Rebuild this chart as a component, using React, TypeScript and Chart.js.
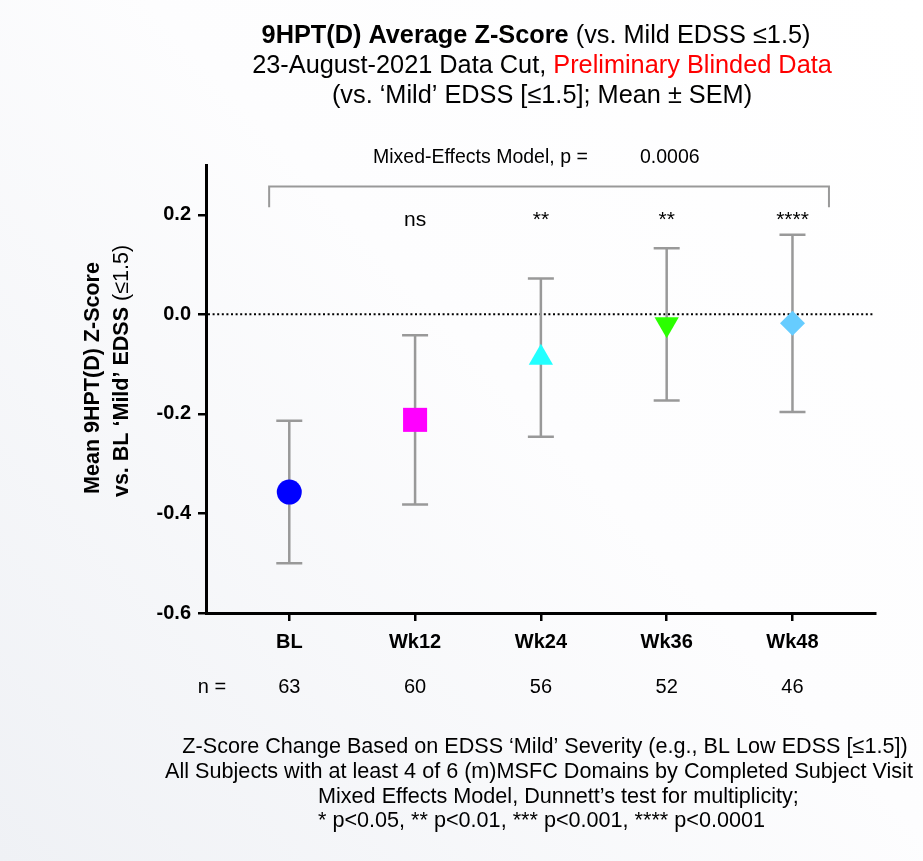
import React, { useEffect, useRef } from "react";
import { Chart, registerables } from "chart.js";

Chart.register(...registerables);

// ---------- data ----------
const categories = ["BL", "Wk12", "Wk24", "Wk36", "Wk48"];
const meanZ = [-0.357, -0.212, -0.087, -0.02, -0.018];
const semZ = [0.143, 0.17, 0.159, 0.153, 0.178];
const nSubjects = [63, 60, 56, 52, 46];
const significance = ["", "ns", "**", "**", "****"];
const yTickValues = [0.2, 0.0, -0.2, -0.4, -0.6];
const yTickLabels = ["0.2", "0.0", "-0.2", "-0.4", "-0.6"];
const overallP = "0.0006";

// ---------- styles ----------
const markerColors = ["#0000ff", "#ff00ff", "#22ffff", "#2bff00", "#66ccff"];
const markerStyles = ["circle", "rect", "triangle", "triangle", "rectRot"];
const markerRotations = [0, 0, 0, 180, 0];
const markerRadii = [12.5, 17, 14, 14, 12.5];

const FONT = "'Liberation Sans', Arial, Helvetica, sans-serif";

type Seg = { text: string; bold?: boolean; color?: string };

function fontOf(bold: boolean | undefined, size: number) {
  return `${bold ? "bold " : ""}${size}px ${FONT}`;
}

function measureSegs(ctx: CanvasRenderingContext2D, segs: Seg[], size: number) {
  let w = 0;
  for (const s of segs) {
    ctx.font = fontOf(s.bold, size);
    w += ctx.measureText(s.text).width;
  }
  return w;
}

function fitSize(ctx: CanvasRenderingContext2D, segs: Seg[], target: number) {
  const base = 20;
  return (base * target) / measureSegs(ctx, segs, base);
}

function drawSegs(
  ctx: CanvasRenderingContext2D,
  segs: Seg[],
  x: number,
  y: number,
  size: number,
  align: "center" | "left"
) {
  const total = measureSegs(ctx, segs, size);
  let cx = align === "center" ? x - total / 2 : x;
  ctx.textAlign = "left";
  ctx.textBaseline = "middle";
  for (const s of segs) {
    ctx.font = fontOf(s.bold, size);
    ctx.fillStyle = s.color || "#000";
    ctx.fillText(s.text, cx, y);
    cx += ctx.measureText(s.text).width;
  }
}

const overlayPlugin = {
  id: "overlay",
  beforeDraw(chart: any) {
    const { ctx, width, height } = chart;
    ctx.save();
    ctx.globalCompositeOperation = "destination-over";
    const g = ctx.createLinearGradient(width, 0, 0, height);
    g.addColorStop(0, "#ffffff");
    g.addColorStop(0.45, "#fdfdfe");
    g.addColorStop(1, "#eff1f5");
    ctx.fillStyle = g;
    ctx.fillRect(0, 0, width, height);
    ctx.restore();
  },
  beforeDatasetsDraw(chart: any) {
    const { ctx, chartArea } = chart;
    const xs = chart.scales.x;
    const ys = chart.scales.y;
    ctx.save();
    // zero reference line (dotted)
    const y0 = ys.getPixelForValue(0);
    ctx.strokeStyle = "#000";
    ctx.lineWidth = 2;
    ctx.setLineDash([2, 2.6]);
    ctx.beginPath();
    ctx.moveTo(chartArea.left + 2, y0);
    ctx.lineTo(chartArea.right, y0);
    ctx.stroke();
    ctx.setLineDash([]);
    // error bars (mean ± SEM)
    ctx.strokeStyle = "#999999";
    ctx.lineWidth = 2.5;
    for (let i = 0; i < categories.length; i++) {
      const x = xs.getPixelForValue(i);
      const yt = ys.getPixelForValue(meanZ[i] + semZ[i]);
      const yb = ys.getPixelForValue(meanZ[i] - semZ[i]);
      ctx.beginPath();
      ctx.moveTo(x, yt);
      ctx.lineTo(x, yb);
      ctx.moveTo(x - 13, yt);
      ctx.lineTo(x + 13, yt);
      ctx.moveTo(x - 13, yb);
      ctx.lineTo(x + 13, yb);
      ctx.stroke();
    }
    ctx.restore();
  },
  afterDraw(chart: any) {
    const { ctx } = chart;
    const xs = chart.scales.x;
    const ys = chart.scales.y;
    ctx.save();

    // Title
    const t1: Seg[] = [
      { text: "9HPT(D) Average Z-Score", bold: true },
      { text: " (vs. Mild EDSS \u22641.5)" },
    ];
    const t2: Seg[] = [
      { text: "23-August-2021 Data Cut, " },
      { text: "Preliminary Blinded Data", color: "#ff0000" },
    ];
    const t3: Seg[] = [{ text: "(vs. \u2018Mild\u2019 EDSS [\u22641.5]; Mean \u00b1 SEM)" }];
    const tSize = fitSize(ctx, t2, 580);
    drawSegs(ctx, t1, 536, 36, tSize, "center");
    drawSegs(ctx, t2, 542, 66, tSize, "center");
    drawSegs(ctx, t3, 542, 96, tSize, "center");

    // Y axis title (two lines, rotated)
    const a1: Seg[] = [{ text: "Mean 9HPT(D) Z-Score", bold: true }];
    const a2: Seg[] = [
      { text: "vs. BL \u2018Mild\u2019 EDSS ", bold: true },
      { text: "(\u22641.5)", bold: false },
    ];
    const aSize = fitSize(ctx, a1, 232);
    ctx.save();
    ctx.translate(93, 378);
    ctx.rotate(-Math.PI / 2);
    drawSegs(ctx, a1, 0, 0, aSize, "center");
    ctx.restore();
    ctx.save();
    ctx.translate(122, 371);
    ctx.rotate(-Math.PI / 2);
    drawSegs(ctx, a2, 0, 0, aSize, "center");
    ctx.restore();

    // Overall model bracket and p value
    const bx1 = xs.getPixelForValue(-0.16);
    const bx2 = xs.getPixelForValue(4.29);
    const by = ys.getPixelForValue(0.257);
    const byLeg = ys.getPixelForValue(0.215);
    ctx.strokeStyle = "#999999";
    ctx.lineWidth = 2;
    ctx.beginPath();
    ctx.moveTo(bx1, byLeg);
    ctx.lineTo(bx1, by);
    ctx.lineTo(bx2, by);
    ctx.lineTo(bx2, byLeg);
    ctx.stroke();

    const pY = ys.getPixelForValue(0.3145);
    drawSegs(ctx, [{ text: "Mixed-Effects Model, p =" }], 373, pY, 19.5, "left");
    drawSegs(ctx, [{ text: overallP }], 640, pY, 19.5, "left");

    // significance labels
    ctx.font = fontOf(false, 21);
    ctx.fillStyle = "#000";
    ctx.textAlign = "center";
    ctx.textBaseline = "alphabetic";
    const sY = ys.getPixelForValue(0.1765);
    for (let i = 0; i < categories.length; i++) {
      if (!significance[i]) continue;
      ctx.fillText(significance[i], xs.getPixelForValue(i), sY);
    }

    // n row
    const nY = 687;
    ctx.textBaseline = "middle";
    ctx.font = fontOf(false, 20);
    ctx.textAlign = "center";
    ctx.fillText("n =", 212, nY);
    for (let i = 0; i < categories.length; i++) {
      ctx.fillText(String(nSubjects[i]), xs.getPixelForValue(i), nY);
    }

    // Footnotes
    const f1: Seg[] = [{ text: "Z-Score Change Based on EDSS \u2018Mild\u2019 Severity (e.g., BL Low EDSS [\u22641.5])" }];
    const f2: Seg[] = [{ text: "All Subjects with at least 4 of 6 (m)MSFC Domains by Completed Subject Visit" }];
    const f3: Seg[] = [{ text: "Mixed Effects Model, Dunnett\u2019s test for multiplicity;" }];
    const f4: Seg[] = [{ text: "* p<0.05, ** p<0.01, *** p<0.001, **** p<0.0001" }];
    const fSize = fitSize(ctx, f2, 748);
    drawSegs(ctx, f1, 545, 747, fSize, "center");
    drawSegs(ctx, f2, 539, 772, fSize, "center");
    drawSegs(ctx, f3, 318, 797, fSize, "left");
    drawSegs(ctx, f4, 318, 821, fSize, "left");

    ctx.restore();
  },
};

export default function App() {
  const ref = useRef<HTMLCanvasElement>(null);

  useEffect(() => {
    const canvas = ref.current;
    if (!canvas) return;
    const points = categories.map((_, i) => ({ x: i, y: meanZ[i] }));
    const chart = new Chart(canvas, {
      type: "scatter",
      data: {
        datasets: [
          {
            data: points,
            pointStyle: markerStyles as any,
            pointRadius: markerRadii,
            pointRotation: markerRotations,
            backgroundColor: markerColors,
            borderColor: markerColors,
            borderWidth: 0,
            showLine: false,
          },
        ],
      },
      options: {
        animation: false,
        responsive: false,
        devicePixelRatio: 1,
        events: [],
        layout: { padding: { top: 165, right: 48, left: 0, bottom: 0 } },
        plugins: {
          legend: { display: false },
          title: { display: false },
          tooltip: { enabled: false },
        },
        scales: {
          x: {
            type: "linear",
            min: -0.662,
            max: 4.656,
            afterFit: (scale: any) => {
              scale.height = 248;
            },
            afterBuildTicks: (scale: any) => {
              scale.ticks = categories.map((_, i) => ({ value: i }));
            },
            grid: {
              display: true,
              drawOnChartArea: false,
              drawTicks: true,
              tickLength: 8,
              color: "#000",
              lineWidth: 2.5,
            },
            border: { display: true, color: "#000", width: 3 },
            ticks: {
              autoSkip: false,
              maxRotation: 0,
              padding: 9,
              color: "#000",
              font: { family: FONT, size: 20, weight: "bold" },
              callback: (v: any) => categories[Math.round(Number(v))] ?? "",
            },
          },
          y: {
            type: "linear",
            min: -0.6,
            max: 0.3,
            afterFit: (scale: any) => {
              scale.width = 206;
            },
            afterBuildTicks: (scale: any) => {
              scale.ticks = yTickValues.map((v) => ({ value: v }));
            },
            grid: {
              display: true,
              drawOnChartArea: false,
              drawTicks: true,
              tickLength: 8,
              color: "#000",
              lineWidth: 2.5,
            },
            border: { display: true, color: "#000", width: 3 },
            ticks: {
              autoSkip: false,
              padding: 7,
              color: "#000",
              font: { family: FONT, size: 20, weight: "bold" },
              callback: (v: any) => {
                const idx = yTickValues.findIndex((t) => Math.abs(t - Number(v)) < 1e-9);
                return idx >= 0 ? yTickLabels[idx] : "";
              },
            },
          },
        },
      },
      plugins: [overlayPlugin],
    });
    return () => chart.destroy();
  }, []);

  return (
    <div style={{ position: "absolute", left: 0, top: 0, width: 923, height: 861 }}>
      <canvas ref={ref} width={923} height={861} style={{ display: "block", width: 923, height: 861 }} />
    </div>
  );
}
